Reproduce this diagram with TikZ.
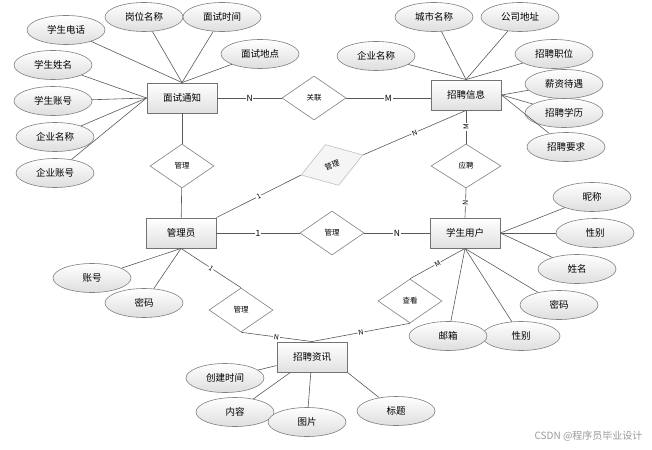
\documentclass[tikz,border=0pt]{standalone}
\usepackage{fontspec}
\setmainfont{Noto Sans CJK SC}
\usetikzlibrary{shapes.geometric}

\begin{document}
\begin{tikzpicture}[x=1pt,y=-1pt,
  entity/.style={draw=black!55, line width=0.9pt, top color=white, bottom color=black!12,
    minimum width=70pt, minimum height=30pt, inner sep=0pt, font=\fontsize{9.5}{10}\selectfont},
  attr/.style={ellipse, draw=black!50, line width=0.6pt, top color=white, bottom color=black!13,
    minimum width=78pt, minimum height=29pt, inner sep=0pt, font=\fontsize{9.5}{10}\selectfont},
  rel/.style={diamond, draw=black!50, line width=0.6pt, fill=white, aspect=1.45,
    minimum width=64pt, minimum height=44pt, inner sep=0pt, font=\fontsize{7.5}{8}\selectfont},
  link/.style={draw=black!65, line width=0.6pt},
  card/.style={fill=white, inner sep=0.8pt, font=\fontsize{8.5}{9}\selectfont},
  scard/.style={card, sloped, font=\fontsize{7}{7}\selectfont}]
\useasboundingbox (0,0) rectangle (652,449);

% Entities
\node[entity] (mianshi) at (182,98) {面试通知};
\node[entity] (zhaopin) at (466,95) {招聘信息};
\node[entity] (guanli) at (181,233) {管理员};
\node[entity] (xuesheng) at (465,233) {学生用户};
\node[entity] (zixun) at (312,357) {招聘资讯};

% Relations
\node[rel] (guanlian) at (314,98) {关联};
\node[rel] (gl1) at (182,166) {管理};
\node[rel, draw=black!25, fill=black!4, rotate=18, minimum width=65pt, minimum height=43pt] (gl2) at (332,165) {管理};
\node[rel, minimum width=70pt] (yingpin) at (466,166) {应聘};
\node[rel] (gl3) at (332,233) {管理};
\node[rel] (gl4) at (241,310) {管理};
\node[rel] (chakan) at (410,301) {查看};

% Attributes of 面试通知
\node[attr] (ms1) at (66,30) {学生电话};
\node[attr] (ms2) at (144,17) {岗位名称};
\node[attr] (ms3) at (222,17) {面试时间};
\node[attr] (ms4) at (260,54) {面试地点};
\node[attr] (ms5) at (53,65) {学生姓名};
\node[attr] (ms6) at (53,101) {学生账号};
\node[attr] (ms7) at (55,137) {企业名称};
\node[attr] (ms8) at (55,173) {企业账号};

% Attributes of 招聘信息
\node[attr] (zp1) at (434,17) {城市名称};
\node[attr] (zp2) at (520,17) {公司地址};
\node[attr] (zp3) at (376,56) {企业名称};
\node[attr] (zp4) at (554,54) {招聘职位};
\node[attr] (zp5) at (564,84) {薪资待遇};
\node[attr] (zp6) at (564,113) {招聘学历};
\node[attr] (zp7) at (566,147) {招聘要求};

% Attributes of 学生用户
\node[attr] (xs1) at (592,197) {昵称};
\node[attr] (xs2) at (595,233) {性别};
\node[attr] (xs3) at (577,269) {姓名};
\node[attr] (xs4) at (559,305) {密码};
\node[attr] (xs6) at (521,336) {性别};
\node[attr] (xs5) at (448,336) {邮箱};

% Attributes of 管理员
\node[attr] (gy1) at (92,278) {账号};
\node[attr] (gy2) at (144,303) {密码};

% Attributes of 招聘资讯
\node[attr] (zx1) at (225,378) {创建时间};
\node[attr] (zx2) at (235,412) {内容};
\node[attr] (zx3) at (307,422) {图片};
\node[attr] (zx4) at (396,411) {标题};

% Attribute lines
\foreach \a in {ms1,ms2,ms3,ms4} \draw[link] (\a) -- (mianshi.north);
\foreach \a in {ms5,ms6,ms7,ms8} \draw[link] (\a) -- (mianshi.west);
\foreach \a in {zp1,zp2,zp3,zp4} \draw[link] (\a) -- (zhaopin.north);
\foreach \a in {zp5,zp6,zp7} \draw[link] (\a) -- (zhaopin.east);
\foreach \a in {xs1,xs2,xs3} \draw[link] (\a) -- (xuesheng.east);
\foreach \a in {xs4,xs5,xs6} \draw[link] (\a) -- (xuesheng.south);
\foreach \a in {gy1,gy2} \draw[link] (\a) -- (guanli.south);
\foreach \a in {zx1,zx2,zx3} \draw[link] (\a) -- (zixun);
\draw[link] (zx4) -- (zixun.south east);

% Relation lines
\draw[link] (mianshi) -- node[card] {N} (guanlian);
\draw[link] (guanlian.east) -- node[card] {M} (zhaopin.west |- guanlian.east);
\draw[link] (mianshi) -- (gl1);
\draw[link] (gl1) -- (guanli);
\draw[link] (guanli.north east) -- node[scard] {1} (gl2.west);
\draw[link] (gl2.east) -- node[scard] {N} (zhaopin.south);
\draw[link] (yingpin.north) -- node[scard] {M} (zhaopin.south);
\draw[link] (yingpin.south) -- node[scard] {N} (xuesheng.north);
\draw[link] (guanli) -- node[card] {1} (gl3);
\draw[link] (gl3) -- node[card] {N} (xuesheng);
\draw[link] (guanli.south) -- node[scard] {1} (gl4.north);
\draw[link] (gl4.south) -- node[scard] {N} (zixun.north);
\draw[link] (chakan.south) -- node[scard] {N} (zixun.north);
\draw[link] (xuesheng.south) -- node[scard] {M} (chakan.north);

% Watermark
\node[text=black!40, font=\fontsize{10}{10}\selectfont, anchor=east] (mark) at (646,436) {CSDN @程序员毕业设计};

\end{tikzpicture}
\end{document}
